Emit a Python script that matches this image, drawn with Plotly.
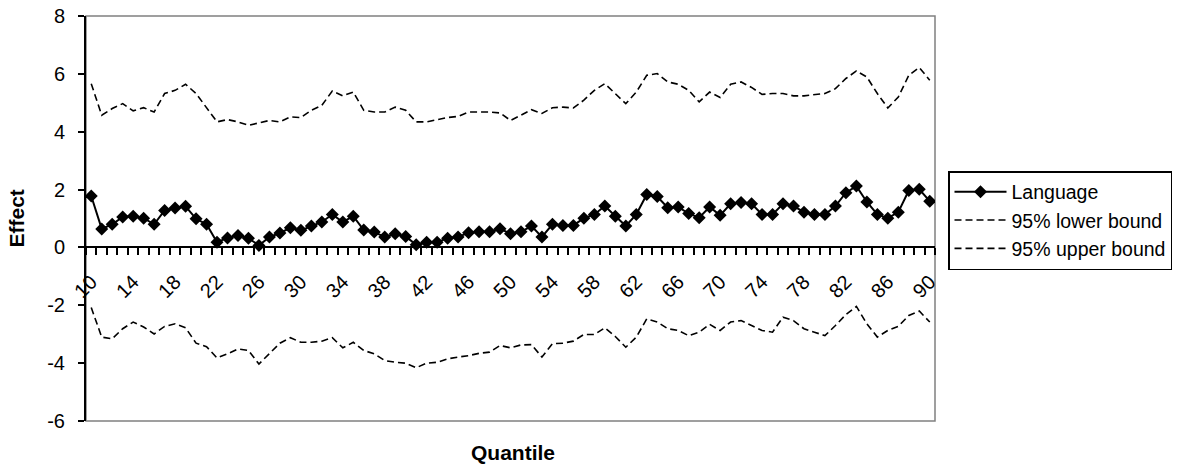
import plotly.graph_objects as go

quantiles = list(range(10, 91))

language = [1.78, 0.64, 0.80, 1.05, 1.08, 1.01, 0.80, 1.28, 1.36, 1.42,
            0.99, 0.80, 0.18, 0.33, 0.41, 0.32, 0.07, 0.36, 0.50, 0.68,
            0.59, 0.74, 0.88, 1.14, 0.88, 1.08, 0.60, 0.53, 0.36, 0.47,
            0.38, 0.09, 0.18, 0.18, 0.32, 0.36, 0.51, 0.54, 0.54, 0.65,
            0.47, 0.54, 0.74, 0.36, 0.80, 0.76, 0.76, 1.01, 1.14, 1.43,
            1.08, 0.74, 1.14, 1.83, 1.76, 1.37, 1.40, 1.17, 1.03, 1.40,
            1.11, 1.51, 1.55, 1.51, 1.14, 1.14, 1.51, 1.43, 1.22, 1.14,
            1.14, 1.43, 1.89, 2.12, 1.57, 1.14, 1.01, 1.22, 1.97, 2.01,
            1.60]

upper_bound = [5.66, 4.57, 4.80, 4.97, 4.72, 4.83, 4.68, 5.32, 5.43, 5.64,
               5.32, 4.85, 4.34, 4.42, 4.34, 4.22, 4.31, 4.39, 4.34, 4.51,
               4.49, 4.74, 4.91, 5.41, 5.24, 5.37, 4.74, 4.68, 4.68, 4.85,
               4.74, 4.34, 4.34, 4.42, 4.49, 4.53, 4.68, 4.68, 4.68, 4.65,
               4.39, 4.57, 4.76, 4.63, 4.83, 4.85, 4.82, 5.09, 5.43, 5.66,
               5.32, 4.97, 5.37, 5.95, 6.01, 5.72, 5.64, 5.43, 5.03, 5.37,
               5.18, 5.64, 5.72, 5.53, 5.29, 5.32, 5.32, 5.24, 5.24, 5.29,
               5.32, 5.49, 5.84, 6.10, 5.89, 5.32, 4.82, 5.20, 5.95, 6.22,
               5.78]

lower_bound = [-2.08, -3.10, -3.16, -2.81, -2.58, -2.75, -2.99, -2.73, -2.64, -2.78,
               -3.31, -3.43, -3.82, -3.68, -3.51, -3.56, -4.03, -3.66, -3.31, -3.12,
               -3.28, -3.28, -3.24, -3.12, -3.47, -3.28, -3.56, -3.68, -3.91, -3.97,
               -4.00, -4.16, -4.00, -3.97, -3.85, -3.79, -3.74, -3.66, -3.62, -3.39,
               -3.47, -3.37, -3.36, -3.79, -3.33, -3.31, -3.24, -3.01, -3.01, -2.78,
               -3.08, -3.45, -3.10, -2.47, -2.58, -2.81, -2.87, -3.05, -2.93, -2.66,
               -2.87, -2.58, -2.53, -2.70, -2.87, -2.93, -2.41, -2.53, -2.81, -2.93,
               -3.05, -2.70, -2.32, -2.04, -2.64, -3.10, -2.87, -2.73, -2.35, -2.20,
               -2.58]

x_tick_values = [10, 14, 18, 22, 26, 30, 34, 38, 42, 46, 50, 54, 58, 62, 66, 70, 74, 78, 82, 86, 90]
x_tick_labels = ["10", "14", "18", "22", "26", "30", "34", "38", "42", "46", "50",
                 "54", "58", "62", "66", "70", "74", "78", "82", "86", "90"]
y_tick_values = [-6, -4, -2, 0, 2, 4, 6, 8]
y_tick_labels = ["-6", "-4", "-2", "0", "2", "4", "6", "8"]

FONT = "Liberation Sans, Arial, sans-serif"

W, H = 1181, 470
L, R, T, B = 86, 246, 16, 49
PLOT_W = float(W - L - R)
PLOT_H = float(H - T - B)

fig = go.Figure()
fig.add_trace(go.Scatter(
    x=quantiles, y=language, name="Language", mode="lines+markers",
    line=dict(color="black", width=2),
    marker=dict(symbol="diamond", size=10, color="black"),
    legendgroup="a"))
fig.add_trace(go.Scatter(
    x=quantiles, y=lower_bound, name="95% lower bound", mode="lines",
    line=dict(color="black", width=1.6, dash="7px,4px"), legendgroup="b"))
fig.add_trace(go.Scatter(
    x=quantiles, y=upper_bound, name="95% upper bound", mode="lines",
    line=dict(color="black", width=1.6, dash="7px,4px"), legendgroup="c"))

fig.update_layout(
    width=W, height=H,
    margin=dict(l=L, r=R, t=T, b=B, autoexpand=False),
    paper_bgcolor="white", plot_bgcolor="white",
    font=dict(family=FONT, size=20, color="black"),
    showlegend=True,
    legend=dict(
        x=(948 - L) / PLOT_W, y=(H - B - 171) / PLOT_H, xanchor="left", yanchor="top",
        bordercolor="black", borderwidth=1.5,
        font=dict(family=FONT, size=19.5, color="black"),
        itemwidth=52, tracegroupgap=0, traceorder="grouped",
        bgcolor="white"),
    xaxis=dict(
        range=[9.5, 90.5], tickmode="array", tickvals=x_tick_values, ticktext=x_tick_labels,
        tickangle=-45, ticks="", showgrid=False, zeroline=False,
        showline=True, linecolor="black", linewidth=2,
        anchor="free", position=6 / 14, automargin=False,
        ticklabelstandoff=14,
        tickfont=dict(family=FONT, size=20, color="black"),
        minor=dict(tickmode="linear", tick0=9.5, dtick=1, ticks="outside",
                   ticklen=7, tickwidth=2, tickcolor="black", showgrid=False)),
    yaxis=dict(
        range=[-6, 8], tickmode="array", tickvals=y_tick_values, ticktext=y_tick_labels,
        showgrid=False, zeroline=False,
        showline=True, linecolor="black", linewidth=2,
        ticks="outside", ticklen=6, tickwidth=2, tickcolor="black",
        ticklabelstandoff=9, automargin=False,
        tickfont=dict(family=FONT, size=20, color="black")),
)

fig.add_shape(type="rect", xref="paper", yref="paper", x0=0, x1=1, y0=0, y1=1,
              line=dict(color="#808080", width=1.5), layer="below")

fig.add_annotation(text="<b>Effect</b>", xref="paper", yref="paper",
                   x=(16 - L) / PLOT_W, y=0.5, textangle=-90, showarrow=False,
                   xanchor="center", yanchor="middle",
                   font=dict(family=FONT, size=21, color="black"))
fig.add_annotation(text="<b>Quantile</b>", xref="paper", yref="paper",
                   x=(513 - L) / PLOT_W, y=-(452 - (H - B)) / PLOT_H, showarrow=False,
                   xanchor="center", yanchor="middle",
                   font=dict(family=FONT, size=21, color="black"))

fig.write_html("out.html",
               config={"displayModeBar": False},
               post_script="document.body.style.margin='0px';document.body.style.overflow='hidden';")
